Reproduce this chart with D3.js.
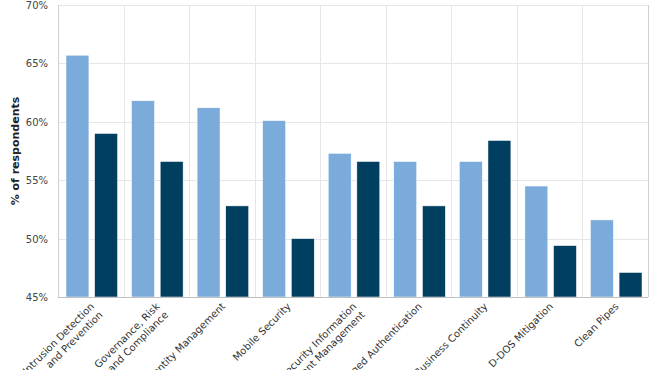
<!DOCTYPE html>
<html lang="en">
<head>
    <meta charset="UTF-8">
    <title>Security services: % of respondents</title>
    <script src="https://d3js.org/d3.v7.min.js"></script>
    <style>
        body { margin: 0; background: #fff; }
        text { font-family: "DejaVu Sans", Verdana, sans-serif; }
        .grid line { stroke: #e6e6e6; stroke-width: 1px; }
        .tick-label { font-size: 10px; fill: #444; }
        .cat-label { font-size: 10px; fill: #333; }
    </style>
</head>
<body>
<svg width="658" height="370"></svg>
<script type="text/javascript">
    // categories (two lines each where the original wraps)
    let categories = [
        ["Intrusion Detection", "and Prevention"],
        ["Governance, Risk", "and Compliance"],
        ["Identity Management"],
        ["Mobile Security"],
        ["Security Information", "and Event Management"],
        ["Managed Authentication"],
        ["Business Continuity"],
        ["D-DOS Mitigation"],
        ["Clean Pipes"]
    ];
    let seriesNames = ["Series A", "Series B"];
    let seriesA = [65.7, 61.8, 61.2, 60.1, 57.3, 56.6, 56.6, 54.5, 51.6];
    let seriesB = [59.0, 56.6, 52.8, 50.0, 56.6, 52.8, 58.4, 49.4, 47.1];
    let yTicks = [45, 50, 55, 60, 65, 70];
    let colors = ["#7aabdb", "#003f5f"];

    let svg = d3.select("svg");
    let margin = {left: 58, right: 10, top: 5, bottom: 73};
    let width = 658, height = 370;
    let innerW = width - margin.left - margin.right;
    let innerH = height - margin.top - margin.bottom;

    let g = svg.append("g").attr("transform", `translate(${margin.left},${margin.top})`);

    let x0 = d3.scaleBand()
        .domain(d3.range(categories.length))
        .range([0, innerW])
        .padding(0);
    let bw = x0.bandwidth();
    let x1 = d3.scaleBand()
        .domain(seriesNames)
        .range([8, bw - 6])
        .paddingInner(0.2);
    let y = d3.scaleLinear().domain([45, 70]).range([innerH, 0]);

    // horizontal grid
    g.append("g").attr("class", "grid")
        .selectAll("line")
        .data(yTicks)
        .join("line")
        .attr("x1", 0).attr("x2", innerW)
        .attr("y1", d => Math.round(y(d)) + 0.5)
        .attr("y2", d => Math.round(y(d)) + 0.5);

    // vertical grid at category boundaries
    g.append("g").attr("class", "grid")
        .selectAll("line")
        .data(d3.range(categories.length + 1))
        .join("line")
        .attr("x1", d => Math.round(d * bw) + 0.5)
        .attr("x2", d => Math.round(d * bw) + 0.5)
        .attr("y1", 0).attr("y2", innerH)
        .style("stroke", (d, i) => (i === 0 || i === categories.length) ? "#d0d0d0" : "#e6e6e6");

    // bars
    let rows = categories.map((c, i) => ({i: i, vals: [seriesA[i], seriesB[i]]}));
    g.append("g").selectAll("g")
        .data(rows)
        .join("g")
        .attr("transform", d => `translate(${x0(d.i)},0)`)
        .selectAll("rect")
        .data(d => d.vals.map((v, k) => ({k: k, v: v})))
        .join("rect")
        .attr("x", d => x1(seriesNames[d.k]))
        .attr("width", x1.bandwidth())
        .attr("y", d => y(d.v))
        .attr("height", d => innerH - y(d.v))
        .style("fill", d => colors[d.k])
        .style("stroke", "#fff")
        .style("stroke-width", 0.5);

    // bottom axis line
    g.append("line")
        .attr("x1", 0).attr("x2", innerW)
        .attr("y1", innerH + 0.5).attr("y2", innerH + 0.5)
        .style("stroke", "#c0c0c0");

    // y tick labels
    g.append("g").selectAll("text")
        .data(yTicks)
        .join("text")
        .attr("class", "tick-label")
        .attr("x", -10)
        .attr("y", d => y(d) + 4)
        .attr("text-anchor", "end")
        .text(d => d + "%");

    // y axis title
    svg.append("text")
        .attr("transform", `translate(19,${margin.top + innerH / 2}) rotate(-90)`)
        .attr("text-anchor", "middle")
        .style("font-size", "11px")
        .style("font-weight", "bold")
        .style("fill", "#222")
        .text("% of respondents");

    // rotated category labels
    let labels = g.append("g").selectAll("text")
        .data(categories)
        .join("text")
        .attr("class", "cat-label")
        .attr("text-anchor", "end")
        .attr("transform", (d, i) => `translate(${x0(i) + bw / 2 + 4},${innerH + 10}) rotate(-45)`);
    labels.selectAll("tspan")
        .data(d => d)
        .join("tspan")
        .attr("x", 0)
        .attr("dy", (d, i) => i === 0 ? 0 : "1.2em")
        .text(d => d);
</script>
</body>
</html>
